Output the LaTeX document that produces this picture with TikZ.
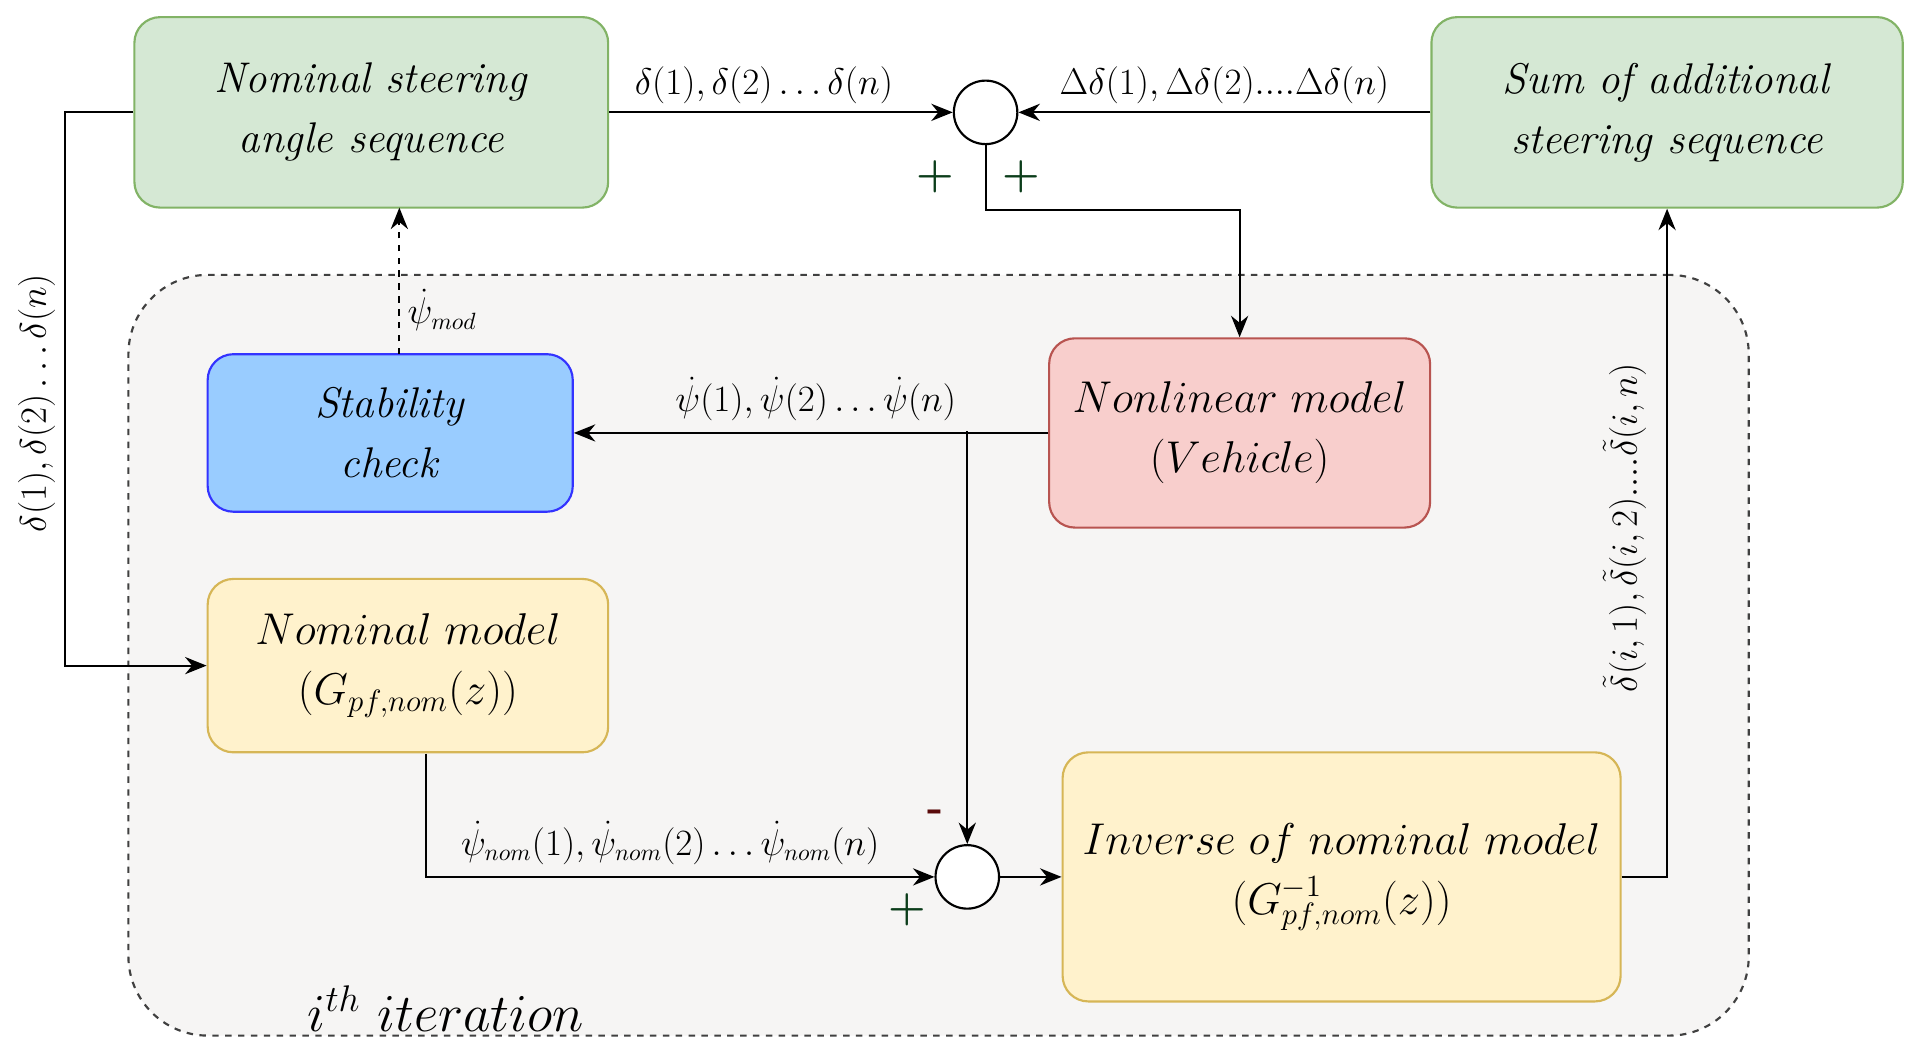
\documentclass[tikz,border=0pt]{standalone}
\usetikzlibrary{arrows.meta}
\begin{document}
\begin{tikzpicture}[x=0.02cm,y=-0.02cm,
 box/.style={draw,rounded corners=12pt,line width=1pt,align=center,font=\fontsize{20}{28}\selectfont},
 sj/.style={draw,circle,minimum size=1.04cm,inner sep=0pt,line width=1pt,fill=white},
 ar/.style={-{Stealth[length=10pt,width=8pt]},line width=1pt},
 lab/.style={font=\fontsize{16}{19}\selectfont},
 sg/.style={font=\fontsize{20}{22}\selectfont\bfseries}]
\useasboundingbox (0,0) rectangle (1568,862);
\definecolor{gf}{HTML}{D5E8D4}\definecolor{gs}{HTML}{82B366}
\definecolor{yf}{HTML}{FFF2CC}\definecolor{ys}{HTML}{D6B656}
\definecolor{rf}{HTML}{F8CECC}\definecolor{rs}{HTML}{B85450}
\definecolor{bf}{HTML}{99CCFF}\definecolor{bs}{HTML}{3333FF}
\definecolor{dg}{HTML}{0B3D1A}\definecolor{dr}{HTML}{5A0A0A}
\node[draw=gray!150,dashed,line width=1pt,fill={rgb,255:red,246;green,245;blue,244},rounded corners=1.3cm,minimum width=26.54cm,minimum height=12.46cm] (it) at (768.5,536.5) {};
\node[box,fill=gf,draw=gs,minimum width=7.76cm,minimum height=3.12cm] (nom) at (304,92) {\textit{Nominal steering}\\ \textit{angle sequence}};
\node[box,fill=gf,draw=gs,minimum width=7.72cm,minimum height=3.12cm] (sum) at (1365,92) {\textit{Sum of additional}\\ \textit{steering sequence}};
\node[sj] (c1) at (807,92) {};
\node[box,fill=bf,draw=bs,minimum width=5.98cm,minimum height=2.58cm] (st) at (319.5,354.5) {\textit{Stability}\\ \textit{check}};
\node[box,fill=rf,draw=rs,minimum width=6.24cm,minimum height=3.1cm] (nl) at (1015,354.5) {$Nonlinear\ model$\\ $(Vehicle)$};
\node[box,fill=yf,draw=ys,minimum width=6.56cm,minimum height=2.84cm] (nm) at (334,545) {$Nominal\ model$\\ $(G_{pf,nom}(z))$};
\node[box,fill=yf,draw=ys,minimum width=9.14cm,minimum height=4.08cm] (inv) at (1098.5,718) {$Inverse\ of\ nominal\ model$\\ $(G^{-1}_{pf,nom}(z))$};
\node[sj] (c2) at (792,718) {};
\draw[ar] (nom.east) -- node[lab,above,pos=0.45]{$\delta(1),\delta(2)\ldots\delta(n)$} (c1.west);
\draw[ar] (sum.west) -- node[lab,above,pos=0.5]{$\Delta\delta(1),\Delta\delta(2)....\Delta\delta(n)$} (c1.east);
\node[sg,text=dg] (p1) at (766,145) {+};
\node[sg,text=dg] (p2) at (836,145) {+};
\coordinate (a1) at (807,172); \coordinate (a2) at (1015,172);
\draw[ar] (c1.south) -- (a1) -- (a2) -- (nl.north);
\coordinate (b1) at (53,92); \coordinate (b2) at (53,545);
\draw[ar] (nom.west) -- (b1) -- (b2) -- (nm.west);
\node[lab,rotate=90] (lb) at (30,330) {$\delta(1),\delta(2)\ldots\delta(n)$};
\draw[ar,dashed] (327,290) -- (327,170);
\node[lab] (pm) at (362,254) {$\dot\psi_{mod}$};
\draw[ar] (nl.west) -- node[lab,above=2pt,pos=0.49]{$\dot\psi(1),\dot\psi(2)\ldots\dot\psi(n)$} (st.east);
\coordinate (d1) at (792,353);
\draw[ar] (d1) -- (c2.north);
\node[sg,text=dr] (mi) at (766,668) {-};
\coordinate (e1) at (349,617); \coordinate (e2) at (349,718);
\draw[ar] (e1) -- (e2) -- node[lab,above=2pt,pos=0.48]{$\dot\psi_{nom}(1),\dot\psi_{nom}(2)\ldots\dot\psi_{nom}(n)$} (c2.west);
\node[sg,text=dg] (p3) at (743,745) {+};
\draw[ar] (c2.east) -- (inv.west);
\coordinate (f1) at (1365,718);
\draw[ar] (inv.east) -- (f1) -- (sum.south);
\node[lab,rotate=90] (lr) at (1330,432) {$\tilde\delta(i,1),\tilde\delta(i,2)....\tilde\delta(i,n)$};
\node[font=\fontsize{26}{30}\selectfont] (itl) at (365,826) {$i^{th}\ iteration$};
\end{tikzpicture}
\end{document}
